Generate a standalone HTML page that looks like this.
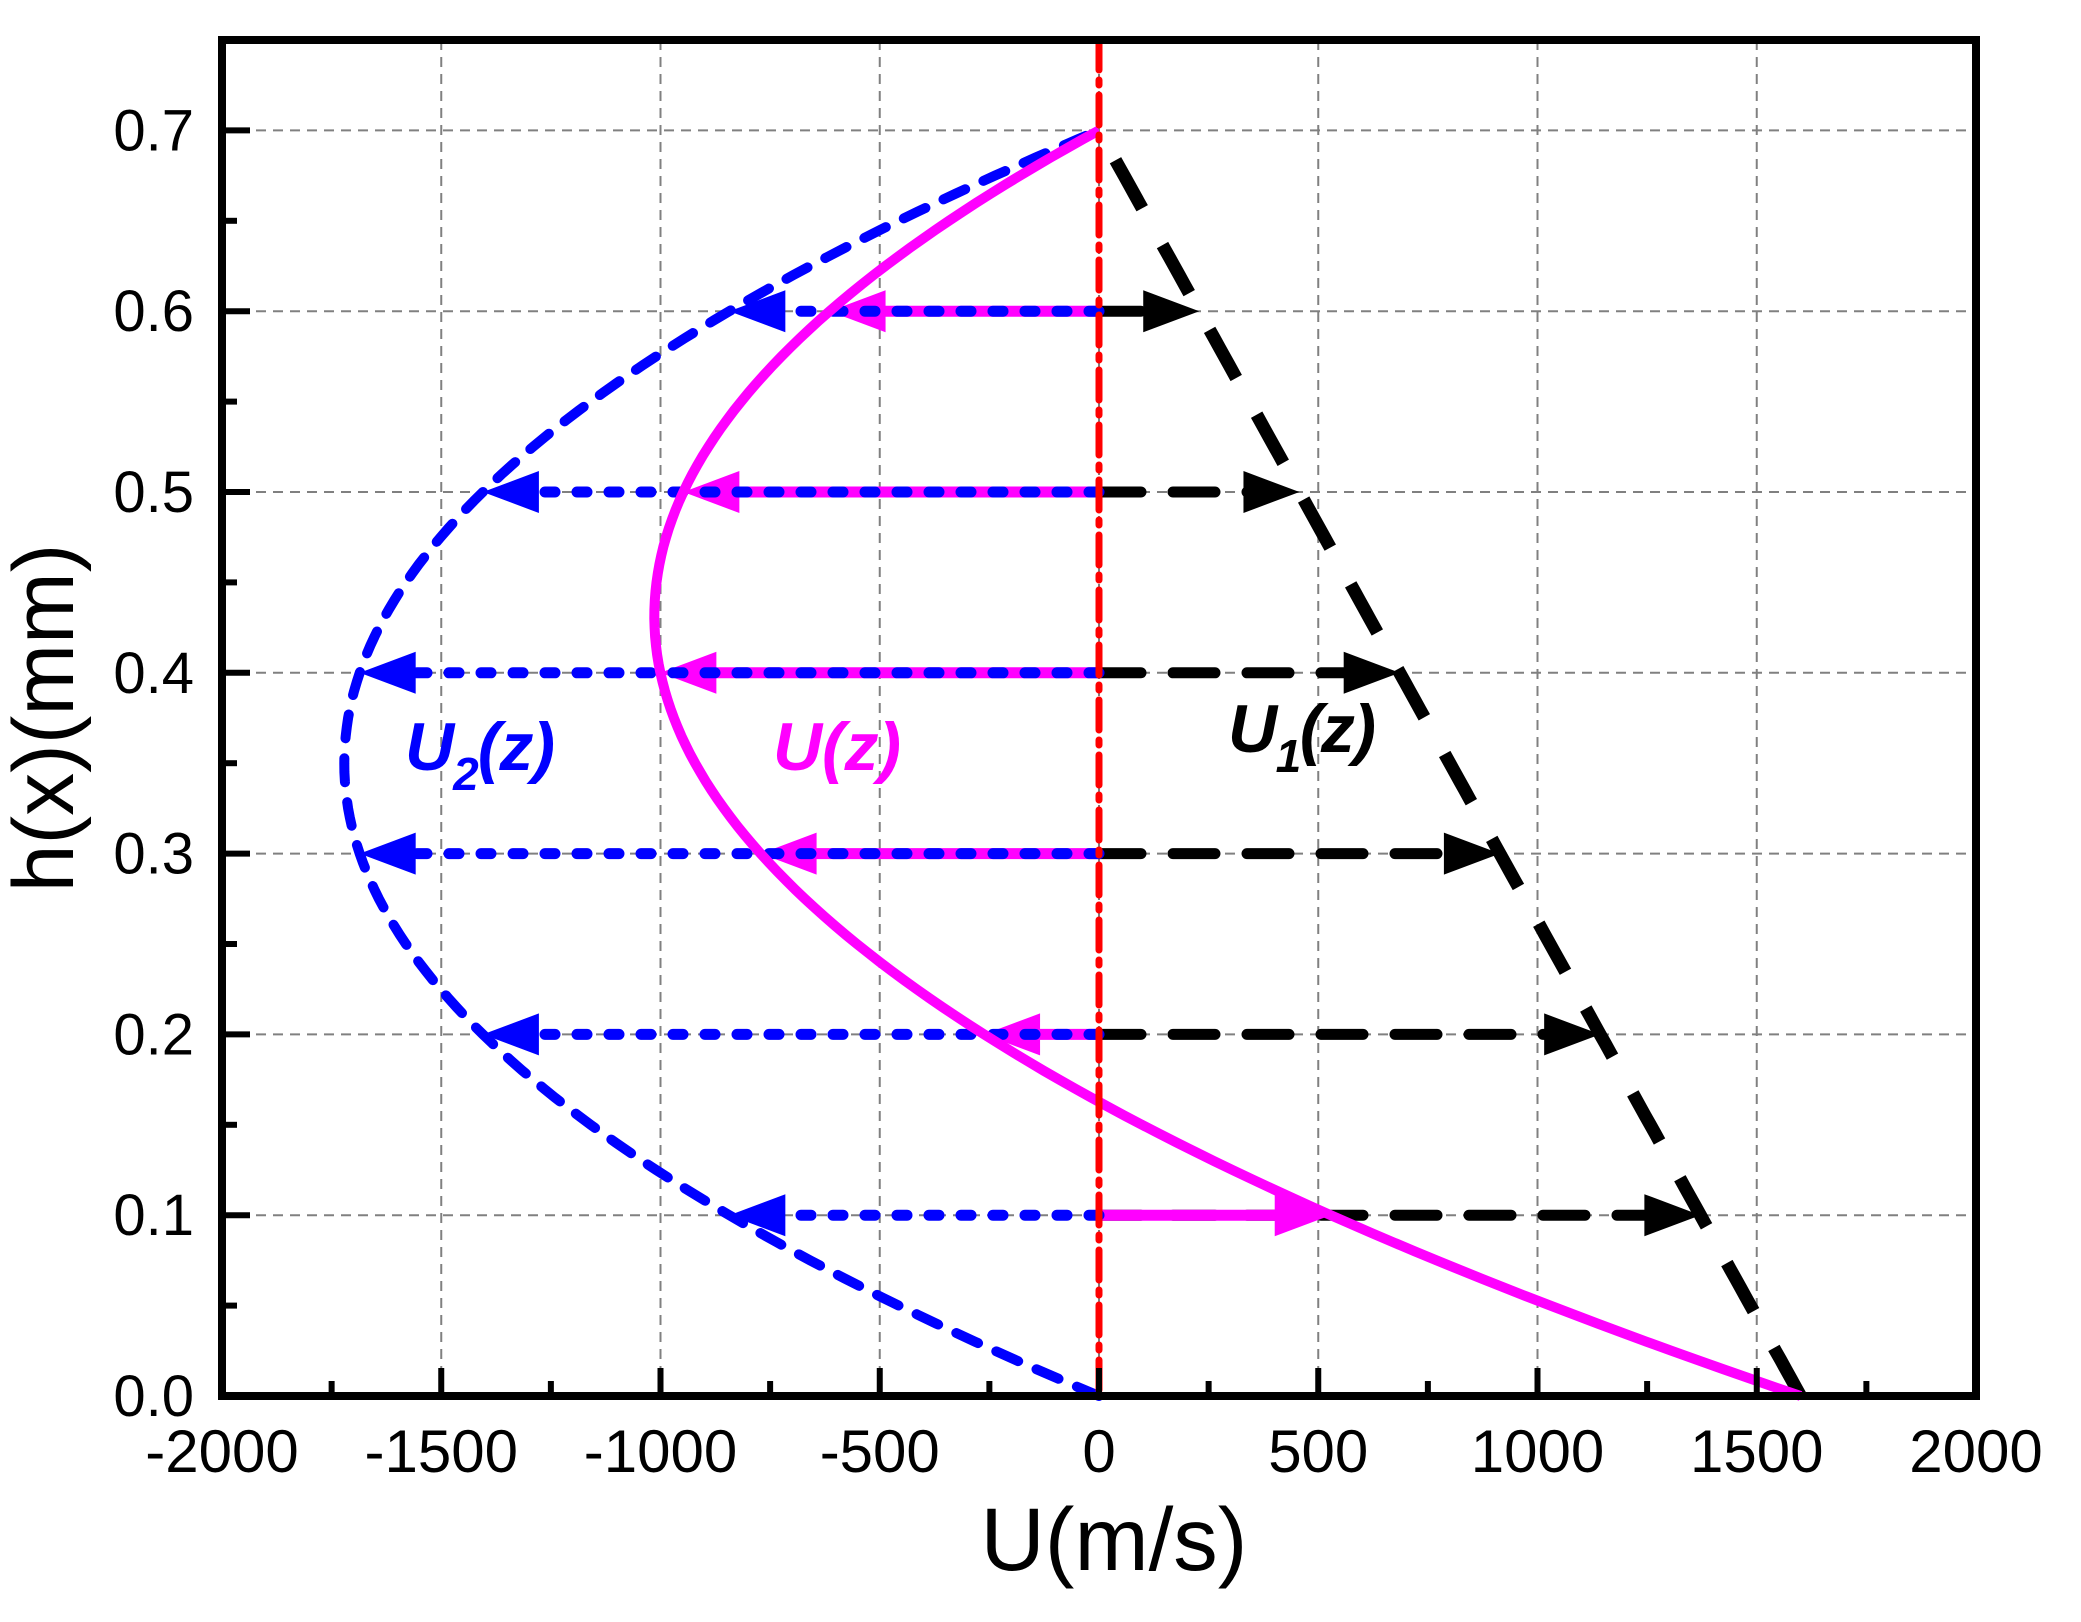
<!DOCTYPE html>
<html><head><meta charset="utf-8"><style>
html,body{margin:0;padding:0;background:#fff;}
svg{display:block;}
</style></head><body>
<svg id="s" width="2081" height="1622" xmlns="http://www.w3.org/2000/svg" font-family="Liberation Sans, Arial, sans-serif">
</svg>
<script>
const L=222,R=1976,T=40,B=1396;
const X=v=>L+(v+2000)*(R-L)/4000;
const Y=h=>B-h*(B-T)/0.75;
const U1=h=>1600*(1-h/0.7);
const U2=h=>-14050*h*(0.7-h);
const U=h=>U1(h)+U2(h);
let s='';
for(let v=-1500;v<=1500;v+=500){s+=`<line x1="${X(v)}" y1="${T}" x2="${X(v)}" y2="${B}" stroke="#808080" stroke-width="2" stroke-dasharray="10 7"/>`;}
for(let h=0.1;h<0.75;h+=0.1){s+=`<line x1="${L}" y1="${Y(h)}" x2="${R}" y2="${Y(h)}" stroke="#808080" stroke-width="2" stroke-dasharray="10 7"/>`;}
function curve(f){let p='';for(let i=0;i<=140;i++){const h=0.7*i/140;p+=(i?'L':'M')+X(f(h)).toFixed(1)+','+Y(h).toFixed(1);}return p;}
function arrow(x0,x1,y,col){const d=x1>x0?1:-1;const l=56,w=21;return `<polygon points="${x1},${y} ${x1-d*l},${y-w} ${x1-d*l},${y+w}" fill="${col}"/>`;}
const levels=[0.1,0.2,0.3,0.4,0.5,0.6];
for(const h of levels){const y=Y(h),x0=X(0),x1=X(U1(h));s+=`<line x1="${x0}" y1="${y}" x2="${x1-40}" y2="${y}" stroke="#000" stroke-width="11" stroke-dasharray="42 32" stroke-linecap="round"/>`+arrow(x0,x1,y,'#000');}
for(const h of levels){const y=Y(h),x0=X(0),x1=X(U(h));const d=x1>x0?1:-1;s+=`<line x1="${x0}" y1="${y}" x2="${x1-d*30}" y2="${y}" stroke="#ff00ff" stroke-width="11"/>`+arrow(x0,x1,y,'#ff00ff');}
for(const h of levels){const y=Y(h),x0=X(0),x1=X(U2(h));s+=`<line x1="${x0}" y1="${y}" x2="${x1+30}" y2="${y}" stroke="#0000ff" stroke-width="11" stroke-dasharray="10 22" stroke-linecap="round"/>`+arrow(x0,x1,y,'#0000ff');}
s+=`<path d="${curve(U1)}" fill="none" stroke="#000" stroke-width="13" stroke-dasharray="55 42"/>`;
s+=`<path d="${curve(U2)}" fill="none" stroke="#0000ff" stroke-width="10" stroke-dasharray="24 20" stroke-linecap="round"/>`;
s+=`<path d="${curve(U)}" fill="none" stroke="#ff00ff" stroke-width="10"/>`;
s+=`<line x1="${X(0)}" y1="${T}" x2="${X(0)}" y2="${B}" stroke="#ff0000" stroke-width="7" stroke-dasharray="30 10 5 10" stroke-linecap="round"/>`;
s+=`<rect x="${L}" y="${T}" width="${R-L}" height="${B-T}" fill="none" stroke="#000" stroke-width="8"/>`;
for(let v=-2000;v<=2000;v+=250){const maj=v%500==0;s+=`<line x1="${X(v)}" y1="${B}" x2="${X(v)}" y2="${B-(maj?28:15)}" stroke="#000" stroke-width="6"/>`;
 if(maj)s+=`<text x="${X(v)}" y="1472" font-size="60" text-anchor="middle">${v}</text>`;}
for(let i=0;i<=15;i++){const h=i*0.05;const maj=i%2==0;s+=`<line x1="${L}" y1="${Y(h)}" x2="${L+(maj?28:15)}" y2="${Y(h)}" stroke="#000" stroke-width="6"/>`;
 if(maj)s+=`<text x="194" y="${Y(h)+20}" font-size="58" text-anchor="end">${h.toFixed(1)}</text>`;}
s+=`<text x="1114" y="1570" font-size="89" text-anchor="middle">U(m/s)</text>`;
s+=`<text transform="translate(73,718) rotate(-90)" font-size="86" text-anchor="middle">h(x)(mm)</text>`;
s+=`<text x="405" y="770" font-size="68" font-weight="bold" font-style="italic" fill="#0000ff" textLength="150">U<tspan font-size="46" dy="20">2</tspan><tspan dy="-20">(z)</tspan></text>`;
s+=`<text x="773" y="770" font-size="68" font-weight="bold" font-style="italic" fill="#ff00ff" textLength="128">U(z)</text>`;
s+=`<text x="1228" y="752" font-size="68" font-weight="bold" font-style="italic" fill="#000" textLength="148">U<tspan font-size="46" dy="20">1</tspan><tspan dy="-20">(z)</tspan></text>`;
document.getElementById('s').innerHTML=s;
</script>
</body></html>
